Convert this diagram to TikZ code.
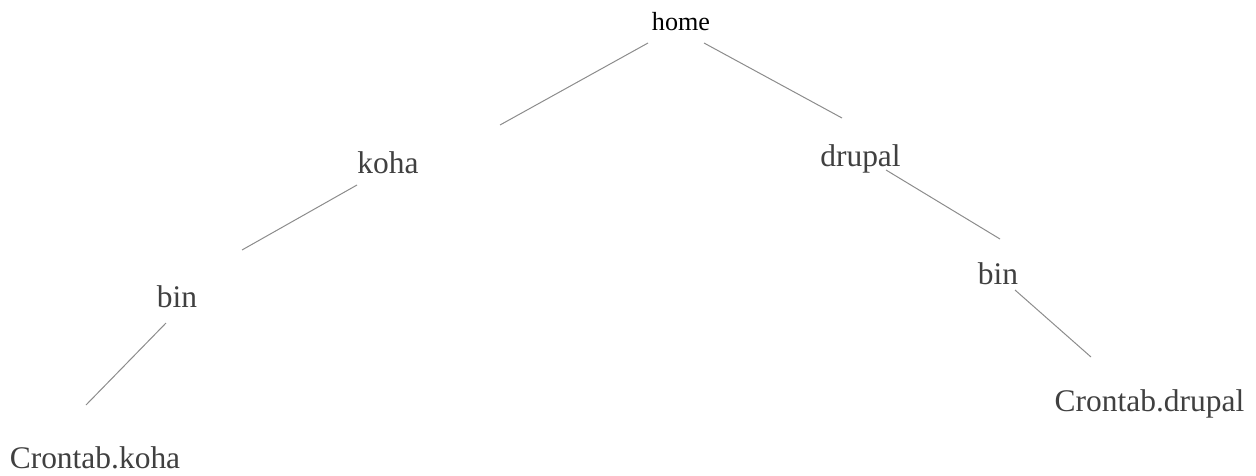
\documentclass[tikz,border=0pt]{standalone}
\usepackage{fontspec}
\setmainfont{Liberation Serif}
\definecolor{txtgray}{HTML}{404040}
\definecolor{linegray}{HTML}{8C8C8C}
\begin{document}
\begin{tikzpicture}[x=0.75pt,y=-0.75pt,
  lbl/.style={anchor=base,inner sep=0pt,text=txtgray,font=\fontsize{23.6}{26}\selectfont},
  rootlbl/.style={anchor=base,inner sep=0pt,text=black,font=\fontsize{19.6}{22}\selectfont},
  edge/.style={draw=linegray,line width=0.75pt}]
\useasboundingbox (0,0) rectangle (1256,475);
% nodes (positioned at baseline)
\node[rootlbl] (home) at (681,30) {home};
\node[lbl] (koha) at (388,173) {koha};
\node[lbl] (drupal) at (860.5,166) {drupal};
\node[lbl] (binL) at (177,307) {bin};
\node[lbl] (binR) at (998,284) {bin};
\node[lbl] (ckoha) at (95,468) {Crontab.koha};
\node[lbl] (cdrupal) at (1149.5,411) {Crontab.drupal};
% connector end points
\coordinate (home-k) at (648,43);
\coordinate (koha-t) at (500,125);
\coordinate (home-d) at (704,43);
\coordinate (drupal-t) at (842,118);
\coordinate (koha-b) at (357,185);
\coordinate (binL-t) at (242,250);
\coordinate (binL-b) at (166,323);
\coordinate (ckoha-t) at (86,405);
\coordinate (drupal-b) at (886,170);
\coordinate (binR-t) at (1000,239);
\coordinate (binR-b) at (1015,290);
\coordinate (cdrupal-t) at (1091,357);
% connectors
\draw[edge] (home-k) -- (koha-t);
\draw[edge] (home-d) -- (drupal-t);
\draw[edge] (koha-b) -- (binL-t);
\draw[edge] (binL-b) -- (ckoha-t);
\draw[edge] (drupal-b) -- (binR-t);
\draw[edge] (binR-b) -- (cdrupal-t);
\end{tikzpicture}
\end{document}
